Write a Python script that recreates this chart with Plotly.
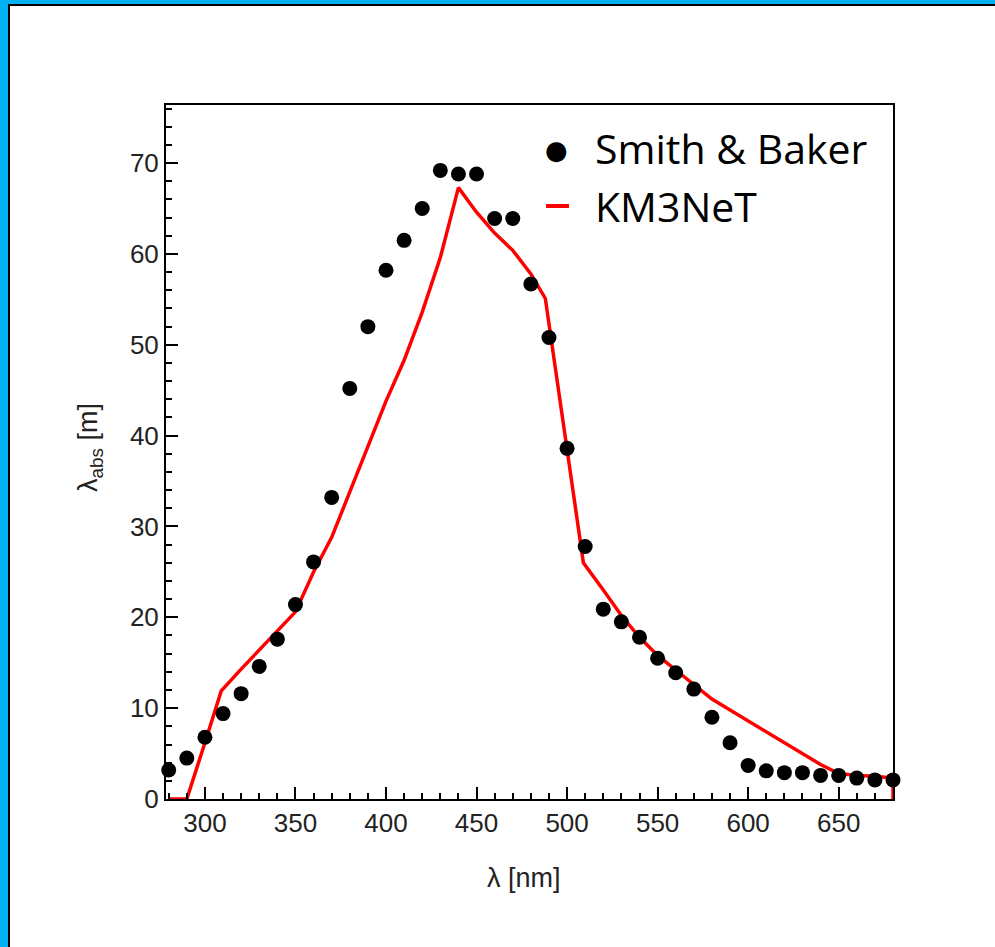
import plotly.graph_objects as go

# Smith & Baker data points
sb_wavelength = [280, 290, 300, 310, 320, 330, 340, 350, 360, 370, 380, 390, 400, 410,
                 420, 430, 440, 450, 460, 470, 480, 490, 500, 510, 520, 530, 540, 550,
                 560, 570, 580, 590, 600, 610, 620, 630, 640, 650, 660, 670, 680]
sb_labs = [3.2, 4.5, 6.8, 9.4, 11.6, 14.6, 17.6, 21.4, 26.1, 33.2, 45.2, 52.0, 58.2, 61.5,
           65.0, 69.2, 68.8, 68.8, 63.9, 63.9, 56.7, 50.8, 38.6, 27.8, 20.9, 19.5, 17.8, 15.5,
           13.9, 12.1, 9.0, 6.2, 3.7, 3.1, 2.9, 2.9, 2.6, 2.6, 2.3, 2.1, 2.1]

# KM3NeT curve
km_wavelength = [280, 290, 300, 309, 320, 330, 340, 350, 360, 370, 380, 390, 400, 410,
                 420, 430, 438, 440, 450, 460, 470, 480, 488, 500, 509, 520, 530, 540,
                 550, 560, 570, 580, 590, 600, 610, 620, 630, 640, 650, 660, 670, 680, 680]
km_labs = [0, 0, 6.2, 11.9, 14.3, 16.4, 18.4, 20.6, 25.0, 28.8, 33.8, 38.8, 43.8, 48.3,
           53.6, 59.6, 65.9, 67.3, 64.6, 62.3, 60.4, 57.8, 55.1, 38.7, 26.0, 23.0, 20.2, 17.8,
           15.8, 14.2, 12.6, 11.0, 9.8, 8.6, 7.4, 6.2, 5.0, 3.8, 2.8, 2.6, 2.5, 2.3, 0]

x_range = [278.5, 680]
y_range = [0, 76.4]

W, H = 995, 947
L, R, T, B = 166, 893, 105, 799

def px(x):
    return (x - L) / (R - L)

def py(y):
    return (B - y) / (B - T)

fig = go.Figure()

fig.add_trace(go.Scatter(
    x=km_wavelength, y=km_labs, mode="lines",
    line=dict(color="#ff0000", width=3.5), name="KM3NeT", cliponaxis=True))

fig.add_trace(go.Scatter(
    x=sb_wavelength, y=sb_labs, mode="markers",
    marker=dict(color="black", size=15, symbol="circle"), name="Smith & Baker",
    cliponaxis=False))

axis_common = dict(
    showline=True, linecolor="black", linewidth=2, mirror=True,
    ticks="inside", tickcolor="black", tickwidth=2, ticklen=12,
    showgrid=False, zeroline=False,
    tickfont=dict(family="Liberation Sans, Arial, sans-serif", size=26, color="#222"),
)

fig.update_xaxes(range=x_range, dtick=50, tick0=300,
                 minor=dict(dtick=10, tick0=300, ticks="inside", ticklen=6,
                            tickwidth=2, tickcolor="black"),
                 **axis_common)
fig.update_yaxes(range=y_range, dtick=10, tick0=0,
                 minor=dict(dtick=2, tick0=0, ticks="inside", ticklen=6,
                            tickwidth=2, tickcolor="black"),
                 **axis_common)

shapes = [
    # blue frame on top and left
    dict(type="rect", xref="paper", yref="paper", x0=px(0), x1=px(W), y0=py(4), y1=py(0),
         fillcolor="#00b0f0", line=dict(width=0), layer="above"),
    dict(type="rect", xref="paper", yref="paper", x0=px(0), x1=px(8), y0=py(H), y1=py(0),
         fillcolor="#00b0f0", line=dict(width=0), layer="above"),
    dict(type="rect", xref="paper", yref="paper", x0=px(8), x1=px(W), y0=py(6), y1=py(4),
         fillcolor="black", line=dict(width=0), layer="above"),
    dict(type="rect", xref="paper", yref="paper", x0=px(8), x1=px(10), y0=py(H), y1=py(4),
         fillcolor="black", line=dict(width=0), layer="above"),
    # legend red dash
    dict(type="line", xref="paper", yref="paper", x0=px(546), x1=px(569), y0=py(206), y1=py(206),
         line=dict(color="#ff0000", width=4)),
]

legend_font = dict(family="Open Sans, Noto Sans, sans-serif", size=41, color="black")
title_font = dict(family="Liberation Sans, Arial, sans-serif", size=27, color="#222")
annotations = [
    dict(text="●", xref="paper", yref="paper", x=px(556), y=py(150), xanchor="center",
         yanchor="middle", showarrow=False,
         font=dict(family="DejaVu Sans", size=26, color="black")),
    dict(text="Smith &amp; Baker", xref="paper", yref="paper", x=px(593), y=py(148),
         xanchor="left", yanchor="middle", showarrow=False, font=legend_font),
    dict(text="KM3NeT", xref="paper", yref="paper", x=px(593), y=py(206),
         xanchor="left", yanchor="middle", showarrow=False, font=legend_font),
    dict(text="λ [nm]", xref="paper", yref="paper", x=px(524), y=py(878),
         xanchor="center", yanchor="middle", showarrow=False, font=title_font),
    dict(text="λ<sub>abs</sub> [m]", xref="paper", yref="paper", x=px(90), y=py(448),
         xanchor="center", yanchor="middle", showarrow=False, textangle=-90,
         font=title_font),
]

fig.update_layout(
    width=W, height=H,
    margin=dict(l=L, r=W - R, t=T, b=H - B),
    paper_bgcolor="white", plot_bgcolor="white",
    showlegend=False,
    shapes=shapes, annotations=annotations,
)

fig.write_html("out.html")
